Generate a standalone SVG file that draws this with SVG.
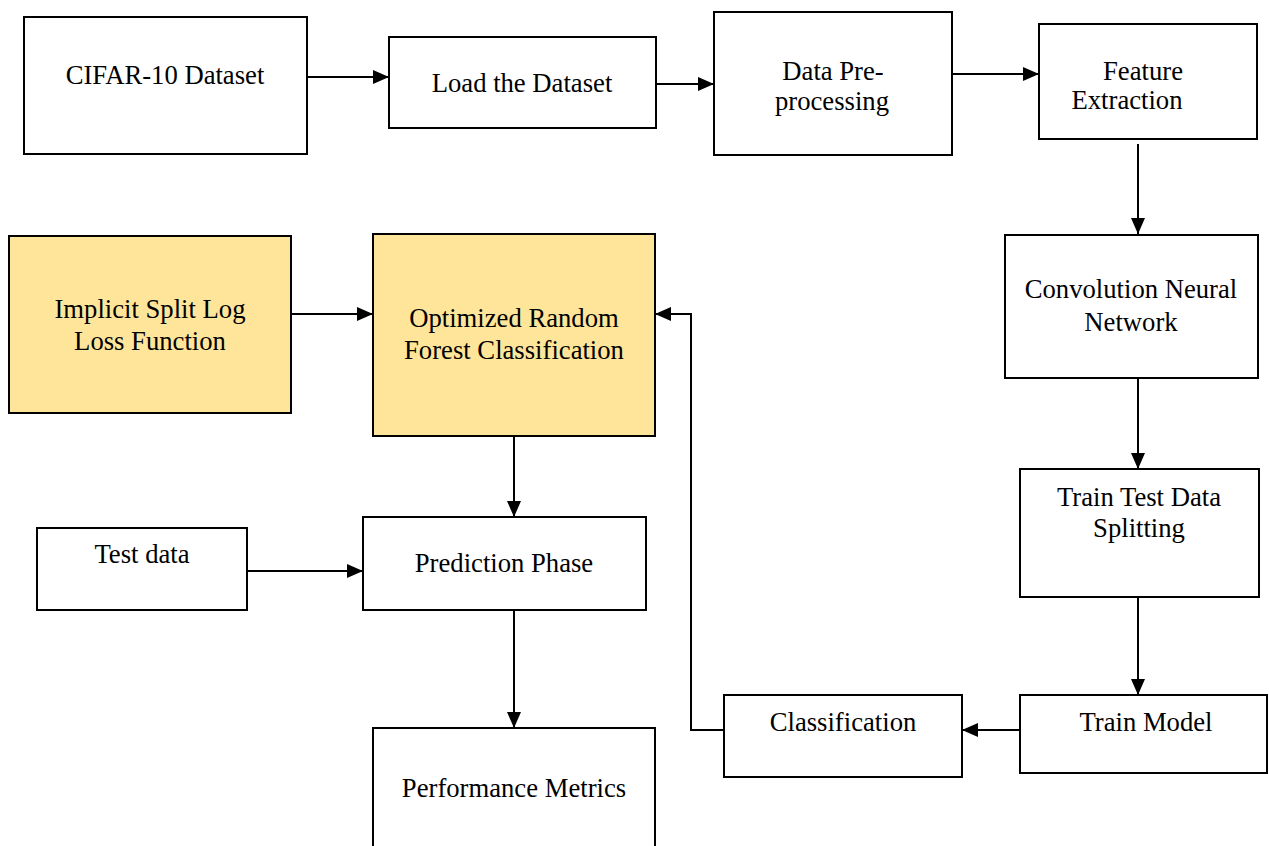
<svg xmlns="http://www.w3.org/2000/svg" width="1269" height="846" viewBox="0 0 1269 846">
<defs>
<style>
.box{fill:#fff;stroke:#000;stroke-width:2}
.hl{fill:#FFE599;stroke:#000;stroke-width:2}
.t{font-family:"Liberation Serif","Times New Roman",serif;font-size:26.67px;fill:#000;text-anchor:middle}
.c{fill:none;stroke:#000;stroke-width:2;marker-end:url(#ah)}
</style>
<marker id="ah" markerUnits="userSpaceOnUse" markerWidth="16" markerHeight="14" refX="16" refY="7" orient="auto">
<path d="M0,0 L16,7 L0,14 z" fill="#000"/>
</marker>
</defs>
<rect width="1269" height="846" fill="#fff"/>
<g id="connectors">
<path class="c" d="M307,77 H389"/>
<path class="c" d="M656,84 H714"/>
<path class="c" d="M952,74 H1039"/>
<path class="c" d="M1138,144 V234"/>
<path class="c" d="M1138,378 V469"/>
<path class="c" d="M1138,595 V695"/>
<path class="c" d="M1020,730 H962"/>
<path class="c" d="M724,730 H691 V314 H655"/>
<path class="c" d="M291,314 H373"/>
<path class="c" d="M514,436 V517"/>
<path class="c" d="M247,571 H363"/>
<path class="c" d="M514,610 V728"/>
</g>
<g id="cifar">
<rect class="box" x="24" y="17" width="283" height="137"/>
<text class="t" x="165" y="84">CIFAR-10 Dataset</text>
</g>
<g id="load">
<rect class="box" x="389" y="37" width="267" height="91"/>
<text class="t" x="522" y="92">Load the Dataset</text>
</g>
<g id="preprocess">
<rect class="box" x="714" y="12" width="238" height="143"/>
<text class="t" x="833" y="80">Data Pre-</text>
<text class="t" x="832" y="110">processing</text>
</g>
<g id="feature">
<rect class="box" x="1039" y="24" width="218" height="115"/>
<text class="t" x="1143" y="80">Feature</text>
<text class="t" x="1127" y="109">Extraction</text>
</g>
<g id="cnn">
<rect class="box" x="1005" y="235" width="253" height="143"/>
<text class="t" x="1131" y="298">Convolution Neural</text>
<text class="t" x="1131" y="331">Network</text>
</g>
<g id="split">
<rect class="box" x="1020" y="469" width="239" height="128"/>
<text class="t" x="1139" y="506">Train Test Data</text>
<text class="t" x="1139" y="537">Splitting</text>
</g>
<g id="train">
<rect class="box" x="1020" y="695" width="247" height="78"/>
<text class="t" x="1146" y="731">Train Model</text>
</g>
<g id="classification">
<rect class="box" x="724" y="695" width="238" height="82"/>
<text class="t" x="843" y="731">Classification</text>
</g>
<g id="implicit">
<rect class="hl" x="9" y="236" width="282" height="177"/>
<text class="t" x="150" y="318">Implicit Split Log</text>
<text class="t" x="150" y="350">Loss Function</text>
</g>
<g id="orfc">
<rect class="hl" x="373" y="234" width="282" height="202"/>
<text class="t" x="514" y="327">Optimized Random</text>
<text class="t" x="514" y="359">Forest Classification</text>
</g>
<g id="testdata">
<rect class="box" x="37" y="528" width="210" height="82"/>
<text class="t" x="142" y="563">Test data</text>
</g>
<g id="prediction">
<rect class="box" x="363" y="517" width="283" height="93"/>
<text class="t" x="504" y="572">Prediction Phase</text>
</g>
<g id="performance">
<rect class="box" x="373" y="728" width="282" height="130"/>
<text class="t" x="514" y="797">Performance Metrics</text>
</g>
</svg>
